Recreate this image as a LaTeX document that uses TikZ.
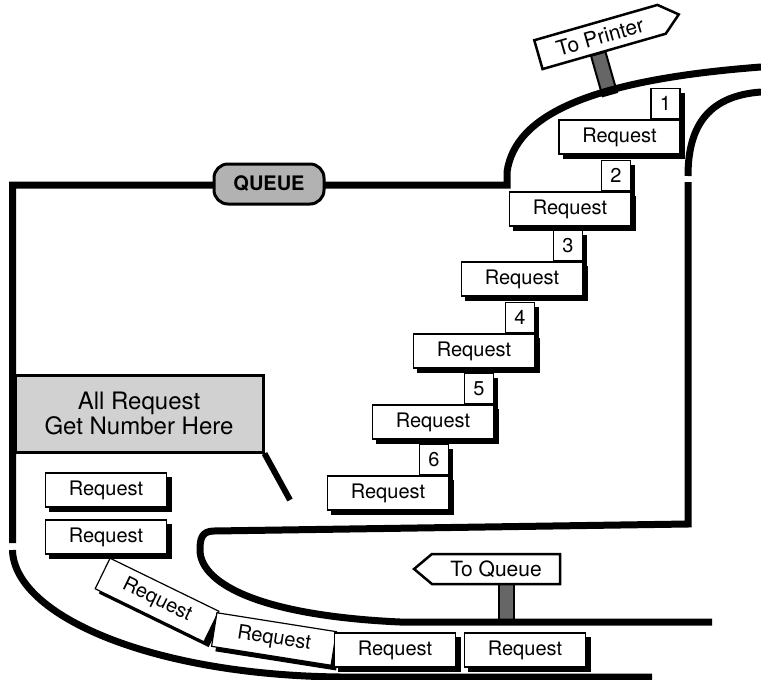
\documentclass[tikz,border=0pt]{standalone}
\usepackage{fontspec}
\setmainfont{TeX Gyre Heros}
\usetikzlibrary{shapes.symbols}

\begin{document}
\begin{tikzpicture}[x=1pt,y=-1pt]
  \tikzstyle{road} = [line width=7pt]
  \tikzstyle{req} = [rectangle, draw, line width=1.2pt, fill=white, minimum width=121pt, minimum height=34pt, inner sep=0pt, font=\fontsize{20}{22}\selectfont]
  \tikzstyle{num} = [req, minimum width=29pt, minimum height=30pt]
  \tikzstyle{reqshadow} = [draw=black, fill=black]
  \tikzstyle{sign} = [signal, draw, line width=2.5pt, fill=white, minimum height=30pt, minimum width=146pt, signal pointer angle=80, font=\fontsize{21}{22}\selectfont]
  \tikzstyle{post} = [rectangle, draw, line width=2pt, fill=black!60, minimum width=15pt, inner sep=0pt]
  \useasboundingbox (0,0) rectangle (761,680);

  % sign posts
  \node[post, rotate=16, minimum height=42pt] (ppost) at (604,74) {};
  \node[post, minimum height=40pt] (qpost) at (506,603) {};

  % roads
  \draw[road] (12.5,543) -- (12.5,185) -- (507,185) -- (507,172) .. controls (515,115) and (590,80) .. (761,67);
  \draw[road] (12.5,550) .. controls (14,615) and (150,675) .. (340,677) -- (652,677);
  \draw[road] (761,92) .. controls (705,96) and (688,130) .. (688,176);
  \draw[road] (688,182) -- (688,524) -- (214,531) .. controls (201,531) and (200,540) .. (200,550) .. controls (200,580) and (250,615) .. (400,622) -- (712,622);

  % signs
  \node[sign, rotate=16, signal to=east] (psign) at (600,37) {To Printer};
  \node[sign, signal to=west] (qsign) at (496,569) {To Queue};
  \node[draw, line width=3pt, rounded corners=14pt, fill=black!30, minimum width=110pt, minimum height=40pt, font=\fontsize{20}{20}\selectfont\bfseries] (queue) at (269,184) {QUEUE};

  % ticket desk
  \node[rectangle, draw, line width=3pt, fill=black!18, minimum width=248pt, minimum height=77pt, align=center, font=\fontsize{24}{23}\selectfont] (numhere) at (139,413.5) {All Request\\Get Number Here};
  \coordinate (tail) at (290,500);
  \draw[road, line width=6pt] (numhere.south east) -- (tail);

  % numbered requests, shadow first
  \foreach \n/\x/\y in {1/619.5/137, 2/570/209, 3/522/279, 4/474/351, 5/433/422, 6/388/493}{
    \node[req, reqshadow] (req\n s) at ({\x+4.5},{\y+4.5}) {};
    \node[num, reqshadow, anchor=south east] (num\n s) at ({\x+65},{\y-12.5}) {};
    \node[req] (req\n) at (\x,\y) {Request};
    \node[num, anchor=south east] (num\n) at (req\n.north east) {\n};
  }

  % waiting requests
  \foreach \name/\x/\y/\r in {lreq1/106/490/0, lreq2/106/537/0, breq1/157/600/-26, breq2/274/639/-9, breq3/395/650/0, breq4/525/650/0}{
    \node[req, reqshadow, rotate=\r] (\name s) at ({\x+4.5},{\y+4.5}) {};
    \node[req, rotate=\r] (\name) at (\x,\y) {Request};
  }
\end{tikzpicture}
\end{document}
